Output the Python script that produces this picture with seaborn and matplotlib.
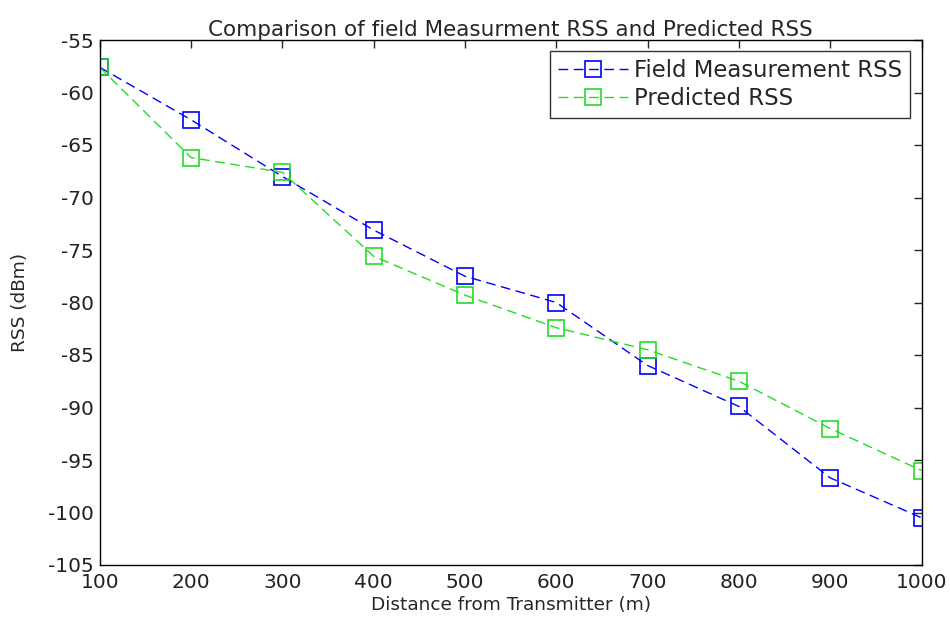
import matplotlib
matplotlib.use("Agg")
import matplotlib.pyplot as plt
import seaborn as sns
import pandas as pd

distance = [100, 200, 300, 400, 500, 600, 700, 800, 900, 1000]
field_rss = [-57.6, -62.6, -68.0, -73.1, -77.5, -80.0, -86.0, -89.9, -96.7, -100.5]
predicted_rss = [-57.6, -66.2, -67.6, -75.6, -79.3, -82.4, -84.5, -87.5, -92.0, -96.0]
series_names = ["Field Measurement RSS", "Predicted RSS"]
x_ticks = [100, 200, 300, 400, 500, 600, 700, 800, 900, 1000]
y_ticks = [-105, -100, -95, -90, -85, -80, -75, -70, -65, -60, -55]

df = pd.DataFrame({
    "Distance": distance * 2,
    "RSS": field_rss + predicted_rss,
    "Series": [series_names[0]] * len(distance) + [series_names[1]] * len(distance),
})

sns.set_style("white")
plt.rcParams["font.family"] = ["DejaVu Sans"]
plt.rcParams["axes.unicode_minus"] = False
plt.rcParams["xtick.direction"] = "in"
plt.rcParams["ytick.direction"] = "in"

fig = plt.figure(figsize=(9.5, 6.25), dpi=100)
ax = fig.add_axes([0.105, 0.096, 0.865, 0.84])

palette = {series_names[0]: "#0000ff", series_names[1]: "#22dd22"}
sns.lineplot(data=df, x="Distance", y="RSS", hue="Series", style="Series",
             palette=palette, markers={series_names[0]: "s", series_names[1]: "s"},
             dashes={series_names[0]: (7, 4), series_names[1]: (7, 4)},
             markersize=11, markerfacecolor="none", markeredgewidth=1.2,
             linewidth=1.0, ax=ax)

for line in ax.lines:
    line.set_markerfacecolor("none")
    line.set_markeredgecolor(line.get_color())

ax.set_xlim(100, 1000)
ax.set_ylim(-105, -55)
ax.set_xticks(x_ticks)
ax.set_yticks(y_ticks)
ax.tick_params(axis="both", labelsize=14.5, length=6, width=1, top=True, right=True, direction="in",
               labelcolor="#222222")
ax.tick_params(axis="x", pad=6)
ax.tick_params(axis="y", pad=4)
for s in ax.spines.values():
    s.set_visible(True)
    s.set_color("black")
    s.set_linewidth(1.0)

ax.set_xlabel("Distance from Transmitter (m)", fontsize=13.3, labelpad=3)
ax.set_ylabel("RSS (dBm)", fontsize=13.3, labelpad=14)
ax.set_title("Comparison of field Measurment RSS and Predicted RSS", fontsize=15.5, pad=3)

leg = ax.legend(loc="upper right", fontsize=16.4, frameon=True, fancybox=False,
                edgecolor="black", handlelength=3.1, handletextpad=0.25,
                borderpad=0.35, labelspacing=0.2, borderaxespad=0.5)
for h in leg.legend_handles:
    h.set_markerfacecolor("none")
leg.get_frame().set_linewidth(1.0)

fig.savefig("out.png", dpi=100)
